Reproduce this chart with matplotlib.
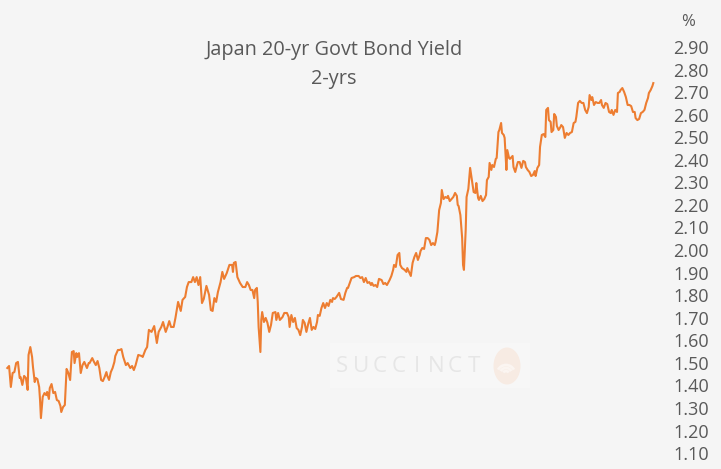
import matplotlib
matplotlib.use("Agg")
import matplotlib.pyplot as plt
from matplotlib.patches import Rectangle, Ellipse, Arc
import numpy as np

plt.rcParams['font.family'] = ['Open Sans', 'DejaVu Sans']

# ---- data: day offsets from start and yield (%) ----
days = [
    0, 2, 4, 6, 8, 10, 12, 14, 15, 17, 19, 21, 23, 24, 26, 28, 29, 31, 32, 34,
    36, 37, 38, 40, 42, 44, 45, 47, 48, 50, 52, 54, 56, 58, 60, 61, 63, 65, 67, 69,
    71, 73, 75, 76, 78, 79, 81, 83, 85, 87, 90, 92, 93, 96, 98, 100, 102, 104, 106, 108,
    110, 112, 113, 115, 117,
    119, 121, 122, 125, 127, 129, 131, 134, 136, 139, 141, 143, 145, 148, 152, 153, 156, 158, 160, 163,
    166, 169, 171, 174, 176, 179, 181, 183, 185, 188, 190, 193, 196, 198, 201, 203, 205, 208, 210, 212,
    214, 216, 218, 220, 222, 225, 228, 230, 232, 234, 236, 238, 241, 243, 245, 248, 251, 254, 255, 256,
    258, 260, 263,
    266, 269, 271, 273, 275, 277, 279, 280, 282, 283, 284, 286, 287, 288, 290, 292, 294, 296, 298, 300,
    303, 304, 306, 308, 311, 313, 316, 318, 319, 321, 323, 325, 327, 329, 331, 333, 334, 336, 338, 340,
    342, 344, 346, 348, 350, 351, 353, 355, 357, 359, 361, 363, 365, 367, 368, 370, 372, 375, 377, 380,
    382, 384, 385, 387, 389, 392, 394, 397,
    399, 401, 403, 405, 407, 409, 411, 412, 414, 416, 418, 420, 423, 425, 427, 429, 432, 434, 436, 437,
    439, 441, 443, 444, 446, 449, 451, 452, 454, 456, 458, 460, 462, 464, 466, 467, 469, 471, 473, 475,
    477, 479, 481, 483, 484, 486, 488, 490, 491, 493, 495, 497, 498, 500, 502, 504, 506, 508, 509, 510,
    512, 514, 515, 516, 518, 519, 521, 523,
    525, 527, 529, 530, 532, 533, 535, 537, 539, 541, 542, 544, 545, 547, 548, 550, 552, 553, 555, 556,
    558, 559, 561, 562, 564, 565, 567, 568, 571, 572, 574, 576, 577, 579, 581, 583, 585, 586, 588, 590,
    592, 594, 596, 597, 599, 601, 602, 604, 606, 608,
    609, 611, 612, 614, 615, 617, 618, 620, 621, 623, 625, 626, 628, 630, 632, 634, 636, 638, 640, 642,
    643, 645, 647, 649, 651, 653, 655, 657, 658, 660, 661, 663, 665, 667, 669, 671, 672, 674, 676, 678,
    680, 682, 683, 685, 687, 689, 690, 692, 693, 695, 697, 699, 701, 703, 705, 707, 709, 710, 712, 714,
    716, 718, 720, 722, 724, 725, 727, 729, 730,
]

yield_pct = [
    1.477, 1.486, 1.393, 1.455, 1.459, 1.499, 1.504, 1.433, 1.437, 1.402, 1.442, 1.433, 1.380, 1.535, 1.570, 1.526, 1.482, 1.415, 1.433, 1.428,
    1.393, 1.335, 1.255, 1.349, 1.366, 1.357, 1.371, 1.340, 1.388, 1.406, 1.366, 1.371, 1.335, 1.331, 1.309, 1.282, 1.304, 1.313, 1.473, 1.455,
    1.424, 1.548, 1.552, 1.499, 1.543, 1.526, 1.543, 1.455, 1.490, 1.504, 1.477, 1.499, 1.499, 1.521, 1.504, 1.490, 1.508, 1.477, 1.424, 1.419,
    1.437, 1.459, 1.442, 1.424, 1.459,
    1.477, 1.504, 1.530, 1.557, 1.557, 1.561, 1.526, 1.490, 1.499, 1.477, 1.486, 1.468, 1.490, 1.535, 1.530, 1.526, 1.557, 1.570, 1.646, 1.637,
    1.663, 1.588, 1.637, 1.659, 1.681, 1.637, 1.659, 1.685, 1.659, 1.659, 1.699, 1.770, 1.730, 1.779, 1.792, 1.836, 1.858, 1.858, 1.880, 1.858,
    1.880, 1.845, 1.880, 1.765, 1.783, 1.841, 1.801, 1.734, 1.730, 1.787, 1.770, 1.814, 1.858, 1.903, 1.872, 1.898, 1.934, 1.934, 1.903, 1.943,
    1.947, 1.880, 1.854,
    1.836, 1.836, 1.858, 1.845, 1.823, 1.823, 1.787, 1.823, 1.832, 1.770, 1.659, 1.548, 1.690, 1.725, 1.681, 1.699, 1.677, 1.637, 1.668, 1.721,
    1.725, 1.690, 1.721, 1.690, 1.703, 1.721, 1.721, 1.703, 1.659, 1.712, 1.681, 1.699, 1.654, 1.646, 1.623, 1.659, 1.690, 1.677, 1.637, 1.672,
    1.699, 1.646, 1.659, 1.650, 1.681, 1.712, 1.708, 1.743, 1.765, 1.743, 1.765, 1.752, 1.779, 1.770, 1.787, 1.783, 1.792, 1.810, 1.783, 1.779,
    1.810, 1.832, 1.832, 1.854, 1.876, 1.880, 1.885, 1.885,
    1.876, 1.880, 1.858, 1.876, 1.854, 1.858, 1.845, 1.854, 1.841, 1.845, 1.836, 1.872, 1.867, 1.849, 1.854, 1.845, 1.867, 1.885, 1.912, 1.934,
    1.925, 1.978, 1.987, 1.934, 1.920, 1.912, 1.903, 1.920, 1.903, 1.885, 1.943, 1.969, 1.987, 1.956, 1.978, 1.996, 2.009, 2.005, 2.053, 2.053,
    2.045, 2.022, 2.031, 2.022, 2.036, 2.080, 2.177, 2.209, 2.266, 2.226, 2.235, 2.231, 2.240, 2.217, 2.226, 2.235, 2.253, 2.240, 2.200, 2.195,
    2.155, 2.053, 1.934, 1.912, 2.089, 2.235, 2.271, 2.364,
    2.310, 2.257, 2.253, 2.297, 2.231, 2.222, 2.240, 2.217, 2.226, 2.244, 2.310, 2.324, 2.386, 2.355, 2.377, 2.368, 2.404, 2.408, 2.523, 2.532,
    2.563, 2.519, 2.510, 2.497, 2.355, 2.443, 2.408, 2.404, 2.417, 2.368, 2.346, 2.377, 2.390, 2.390, 2.364, 2.395, 2.390, 2.368, 2.355, 2.346,
    2.328, 2.333, 2.350, 2.328, 2.364, 2.377, 2.457, 2.510, 2.514, 2.501,
    2.621, 2.630, 2.576, 2.568, 2.523, 2.532, 2.603, 2.590, 2.550, 2.532, 2.545, 2.554, 2.545, 2.497, 2.519, 2.510, 2.519, 2.523, 2.563, 2.568,
    2.590, 2.652, 2.661, 2.652, 2.652, 2.621, 2.607, 2.634, 2.687, 2.665, 2.678, 2.643, 2.656, 2.652, 2.652, 2.665, 2.643, 2.630, 2.652, 2.647,
    2.612, 2.607, 2.621, 2.599, 2.621, 2.612, 2.696, 2.701, 2.709, 2.718, 2.701, 2.678, 2.643, 2.643, 2.638, 2.612, 2.612, 2.585, 2.576, 2.581,
    2.607, 2.612, 2.621, 2.652, 2.674, 2.696, 2.709, 2.727, 2.740,
]

y_ticks = [1.10, 1.20, 1.30, 1.40, 1.50, 1.60, 1.70, 1.80, 1.90, 2.00,
           2.10, 2.20, 2.30, 2.40, 2.50, 2.60, 2.70, 2.80, 2.90]
title_line1 = "Japan 20-yr Govt Bond Yield"
title_line2 = "2-yrs"
unit_label = "%"
watermark = "SUCCINCT"

# ---- styling ----
BG = "#f5f5f5"
LINE = "#ed7d31"
TXT = "#595959"

W, H = 721, 469
fig = plt.figure(figsize=(W / 100, H / 100), dpi=100, facecolor=BG)
ax = fig.add_axes([0, 0, 1, 1], facecolor=BG)


def fx(px):
    return px / W


def fy(py):
    return 1 - py / H


# watermark (drawn beneath the line)
fig.patches.append(Rectangle((fx(330), fy(388)), 200 / W, 45 / H,
                             transform=fig.transFigure, facecolor="#f7f7f7",
                             edgecolor='none', zorder=0))
fig.patches.append(Ellipse((fx(507), fy(366)), 27 / W, 37 / H,
                           transform=fig.transFigure, facecolor="#f7ebe3",
                           edgecolor='none', zorder=0))
for k, (r, lw) in enumerate([(9, 2.0), (6, 2.0), (3, 2.0)]):
    fig.patches.append(Arc((fx(506), fy(374)), 2 * r / W, 2 * r / H,
                           theta1=40, theta2=140, transform=fig.transFigure,
                           color="#fbf5f1", lw=lw, zorder=0))
wm_x0, wm_step = 342, 18.8
for i, ch in enumerate(watermark):
    fig.text(fx(wm_x0 + i * wm_step), fy(366), ch, ha='center', va='center',
             fontsize=16, color="#e6e6e6", zorder=0)

ax.patch.set_alpha(0)
fig.patch.set_facecolor(BG)

ax.plot(days, yield_pct, color=LINE, lw=1.5, solid_joinstyle='round', zorder=3)

ax.set_xlim(-8.25, 806.5)
ax.set_ylim(1.0294, 3.1083)

for s in ax.spines.values():
    s.set_visible(False)
ax.set_xticks([])
ax.yaxis.tick_right()
ax.set_yticks(y_ticks)
ax.set_yticklabels([f"{t:.2f}" for t in y_ticks])
ax.tick_params(axis='y', length=0, pad=-34.5, labelsize=13, labelcolor=TXT)

# unit label
fig.text(fx(688), fy(22), unit_label, ha='center', va='center',
         fontsize=12, color=TXT)

# title
fig.text(fx(334), fy(50), title_line1, ha='center', va='center',
         fontsize=14.3, color=TXT)
fig.text(fx(334), fy(79), title_line2, ha='center', va='center',
         fontsize=14.3, color=TXT)

fig.savefig("out.png", dpi=100, facecolor=BG)
